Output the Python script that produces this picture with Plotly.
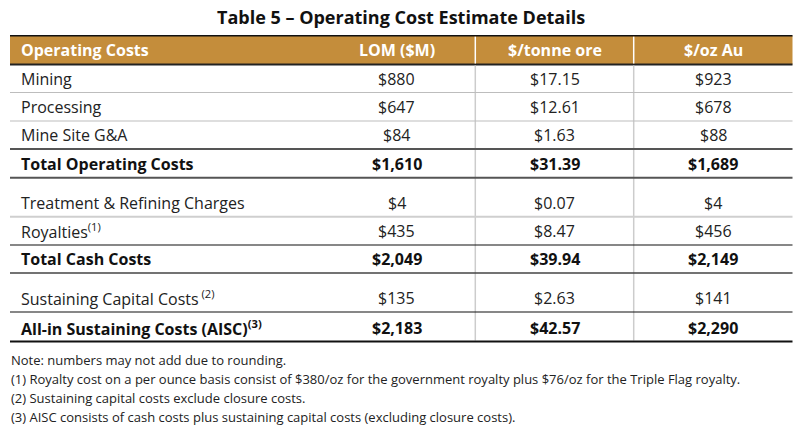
import plotly.graph_objects as go

title = "Table 5 – Operating Cost Estimate Details"
headers = ["Operating Costs", "LOM ($M)", "$/tonne ore", "$/oz Au"]

row_labels = [
    "Mining",
    "Processing",
    "Mine Site G&A",
    "Total Operating Costs",
    "Treatment & Refining Charges",
    "Royalties",
    "Total Cash Costs",
    "Sustaining Capital Costs",
    "All-in Sustaining Costs (AISC)",
]
row_notes = ["", "", "", "", "", "(1)", "", " (2)", "(3)"]
lom_musd = ["$880", "$647", "$84", "$1,610", "$4", "$435", "$2,049", "$135", "$2,183"]
per_tonne = ["$17.15", "$12.61", "$1.63", "$31.39", "$0.07", "$8.47", "$39.94", "$2.63", "$42.57"]
per_oz = ["$923", "$678", "$88", "$1,689", "$4", "$456", "$2,149", "$141", "$2,290"]
total_rows = [False, False, False, True, False, False, True, False, True]

footnotes = [
    "Note: numbers may not add due to rounding.",
    "(1) Royalty cost on a per ounce basis consist of $380/oz for the government royalty plus $76/oz for the Triple Flag royalty.",
    "(2) Sustaining capital costs exclude closure costs.",
    "(3) AISC consists of cash costs plus sustaining capital costs (excluding closure costs).",
]

# geometry in page pixels
col_edges = [10, 318, 475.3, 633.7, 792.5]
header_top, header_bot = 35.7, 64.5
row_bottoms = [92.5, 121, 149, 177.7, 216.7, 245, 273, 312, 341.5]
row_line_styles = [
    ("#bdbdbd", 1.2), ("#bdbdbd", 1.2), ("#555555", 2), ("#555555", 2),
    ("#cfcfcf", 2), ("#111111", 1.2), ("#444444", 1.6), ("#111111", 1.2), ("#111111", 2),
]
gold = "#C48D3B"
font = "'Open Sans', 'Noto Sans', sans-serif"
txt = "#222222"

fig = go.Figure()
shapes = []
annotations = []

# header band
shapes.append(dict(type="rect", x0=col_edges[0], x1=col_edges[-1], y0=header_top, y1=header_bot,
                   fillcolor=gold, line=dict(width=0), layer="below"))
shapes.append(dict(type="line", x0=col_edges[0], x1=col_edges[-1], y0=header_top, y1=header_top,
                   line=dict(color="#111111", width=1.5)))
shapes.append(dict(type="line", x0=col_edges[0], x1=col_edges[-1], y0=header_bot, y1=header_bot,
                   line=dict(color="#222222", width=2.2)))
for xe in col_edges[2:4]:
    shapes.append(dict(type="line", x0=xe, x1=xe, y0=header_top + 1, y1=header_bot - 1,
                       line=dict(color="white", width=1.5)))
    shapes.append(dict(type="line", x0=xe, x1=xe, y0=header_bot + 1, y1=row_bottoms[-1] - 1,
                       line=dict(color="#cccccc", width=1.5)))

for yb, (c, w) in zip(row_bottoms, row_line_styles):
    shapes.append(dict(type="line", x0=col_edges[0], x1=col_edges[-1], y0=yb, y1=yb,
                       line=dict(color=c, width=w)))

# title
annotations.append(dict(x=401, y=17, text="<b>" + title + "</b>", showarrow=False,
                        font=dict(family=font, size=18, color="#111111"), xanchor="center", yanchor="middle"))

# header text
hy = (header_top + header_bot) / 2
annotations.append(dict(x=19, y=hy, text="<b>" + headers[0] + "</b>", showarrow=False,
                        font=dict(family=font, size=16, color="white"), xanchor="left", yanchor="middle"))
for i, h in enumerate(headers[1:]):
    cx = (col_edges[i + 1] + col_edges[i + 2]) / 2
    annotations.append(dict(x=cx, y=hy, text="<b>" + h + "</b>", showarrow=False,
                            font=dict(family=font, size=16, color="white"), xanchor="center", yanchor="middle"))

# body rows
for r, label in enumerate(row_labels):
    ty = row_bottoms[r] - 14
    bold = total_rows[r]
    lab = label
    if row_notes[r]:
        lab = label + "<sup>" + row_notes[r] + "</sup>"
    if bold:
        lab = "<b>" + lab + "</b>"
    color = "#111111" if bold else txt
    annotations.append(dict(x=19, y=ty, text=lab, showarrow=False,
                            font=dict(family=font, size=16, color=color), xanchor="left", yanchor="middle"))
    for c, col in enumerate([lom_musd, per_tonne, per_oz]):
        cx = (col_edges[c + 1] + col_edges[c + 2]) / 2
        v = "<b>" + col[r] + "</b>" if bold else col[r]
        annotations.append(dict(x=cx, y=ty, text=v, showarrow=False,
                                font=dict(family=font, size=16, color=color), xanchor="center", yanchor="middle"))

# footnotes
for i, f in enumerate(footnotes):
    annotations.append(dict(x=9, y=360 + i * 19, text=f, showarrow=False,
                            font=dict(family=font, size=13, color=txt), xanchor="left", yanchor="middle"))

fig.update_layout(
    width=800, height=430,
    margin=dict(l=0, r=0, t=0, b=0),
    paper_bgcolor="white", plot_bgcolor="white",
    xaxis=dict(range=[0, 800], visible=False, fixedrange=True),
    yaxis=dict(range=[430, 0], visible=False, fixedrange=True),
    shapes=shapes,
    annotations=annotations,
    showlegend=False,
)
# drop the browser's default 8px body margin so the figure fills the window
fig.write_html("out.html", config={"displayModeBar": False},
               post_script="document.body.style.margin='0';document.body.style.overflow='hidden';")
